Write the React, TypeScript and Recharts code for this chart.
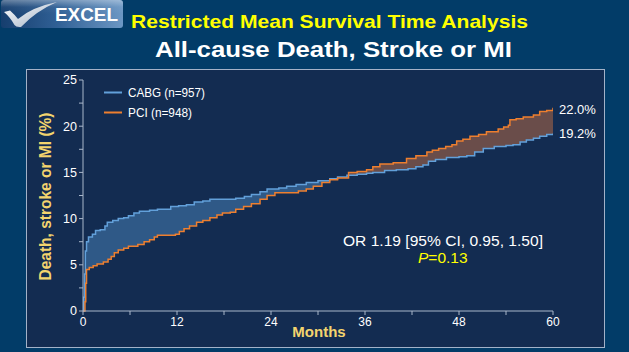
import React from 'react';
import { ComposedChart, Area, Line, XAxis, YAxis } from 'recharts';

// Kaplan-Meier style step points: [month, %]
const cabgMonths = [0, 0.1, 0.2, 0.3, 0.45, 0.7, 1.2, 1.6, 2.2, 2.8, 3.1, 3.8, 4.5, 5.2, 5.8, 6.5, 7.2, 8.5, 9.5, 11.2, 12.2, 13.2, 14.2, 15.3, 16.2, 17.5, 19.5, 20.6, 21.5, 22.6, 23.5, 25.0, 26.0, 27.2, 28.5, 30.0, 31.5, 32.5, 33.7, 35.0, 36.2, 37.0, 38.5, 40.0, 41.5, 42.5, 43.4, 44.1, 45.0, 46.4, 48.0, 49.0, 50.0, 51.1, 52.5, 54.0, 54.9, 55.8, 56.6, 57.5, 58.3, 59.2, 60];
const cabgValues = [0, 1.5, 4, 6.5, 7.5, 8.0, 8.3, 8.7, 8.8, 9.2, 9.6, 9.8, 10.0, 10.1, 10.3, 10.6, 10.8, 10.9, 11.0, 11.3, 11.4, 11.5, 11.8, 11.9, 12.1, 12.1, 12.2, 12.4, 12.6, 12.9, 13.2, 13.3, 13.5, 13.7, 13.9, 14.1, 14.3, 14.5, 14.7, 14.8, 14.9, 15.0, 15.2, 15.3, 15.4, 15.6, 15.8, 16.2, 16.4, 16.6, 16.7, 16.8, 17.2, 17.6, 17.8, 17.9, 18.0, 18.3, 18.5, 18.7, 18.9, 19.1, 19.2];

const pciMonths = [0, 0.25, 0.35, 0.45, 0.8, 1.3, 1.8, 2.6, 3.2, 3.6, 4.0, 4.5, 5.2, 5.8, 7.0, 7.8, 8.5, 9.1, 9.5, 11.8, 12.3, 12.9, 13.6, 14.5, 15.3, 16.2, 17.1, 17.8, 18.8, 19.5, 20.5, 21.5, 22.6, 23.5, 24.5, 27.5, 28.5, 29.4, 30.5, 31.5, 32.5, 33.9, 35.0, 36.2, 37.0, 37.9, 39.6, 41.3, 42.5, 43.9, 44.6, 45.4, 46.3, 47.1, 47.7, 48.5, 49.4, 50.5, 51.5, 53.0, 53.7, 54.3, 54.5, 55.3, 56.2, 57.5, 58.3, 59.2, 60];
const pciValues = [0, 1, 3, 4.5, 4.7, 4.9, 5.1, 5.3, 5.6, 5.9, 6.3, 6.6, 6.8, 7.0, 7.2, 7.5, 7.7, 8.0, 8.2, 8.3, 8.6, 8.9, 9.2, 9.6, 9.8, 10.1, 10.4, 10.6, 10.7, 11.0, 11.3, 11.6, 12.1, 12.5, 12.8, 13.0, 13.2, 13.5, 13.9, 14.2, 14.4, 15.0, 15.1, 15.3, 15.6, 15.9, 16.05, 16.5, 16.8, 17.2, 17.4, 17.6, 17.8, 18.0, 18.4, 18.6, 18.9, 19.1, 19.4, 19.7, 19.9, 20.1, 20.7, 20.8, 21.0, 21.2, 21.6, 21.7, 22.0];

const xTicks = [0, 6, 12, 18, 24, 30, 36, 42, 48, 54, 60];
const yTicks = [0, 2.5, 5, 7.5, 10, 12.5, 15, 17.5, 20, 22.5, 25];

const FONT = 'Arial, "Liberation Sans", sans-serif';
const AXIS = '#A9B7CB';
const BLUE = '#62A0DA';
const ORANGE = '#EE7F2F';

// step lookup: value in effect at month m
function stepAt(months: number[], values: number[], m: number) {
  let v = values[0];
  for (let i = 0; i < months.length; i++) {
    if (months[i] <= m) v = values[i];
    else break;
  }
  return v;
}

const allMonths = Array.from(new Set([...cabgMonths, ...pciMonths])).sort((a, b) => a - b);
const data = allMonths.map((m) => {
  const c = stepAt(cabgMonths, cabgValues, m);
  const p = stepAt(pciMonths, pciValues, m);
  const lo = Math.min(c, p);
  return { month: m, cabg: c, pci: p, blueBand: [lo, c], orangeBand: [lo, p] };
});

function Logo() {
  return (
    <g>
      <defs>
        <linearGradient id="logoBg" x1="0" y1="0" x2="1" y2="0">
          <stop offset="0" stopColor="#163E6E" />
          <stop offset="0.45" stopColor="#2F5F94" />
          <stop offset="1" stopColor="#6C97C4" />
        </linearGradient>
        <linearGradient id="logoGloss" x1="0" y1="0" x2="0" y2="1">
          <stop offset="0" stopColor="#FFFFFF" stopOpacity="0.35" />
          <stop offset="0.5" stopColor="#FFFFFF" stopOpacity="0.05" />
          <stop offset="1" stopColor="#FFFFFF" stopOpacity="0" />
        </linearGradient>
        <linearGradient id="check" x1="0" y1="0" x2="1" y2="1">
          <stop offset="0" stopColor="#FFFFFF" />
          <stop offset="1" stopColor="#9FB0C4" />
        </linearGradient>
      </defs>
      <rect x={1} y={0} width={122} height={28} rx={3} fill="url(#logoBg)" />
      <rect x={1} y={0} width={122} height={14} rx={3} fill="url(#logoGloss)" />
      <path d="M4,12 L10,10.5 Q15,15 18,19 Q32,7 57,2 Q36,11 21,27 Q16,27.5 14.5,25 Q10,17 4,12 Z" fill="url(#check)" />
      <text x={55} y={21} fill="#FFFFFF" fontFamily={FONT} fontWeight="bold" fontSize={17.5} textLength={63} lengthAdjust="spacingAndGlyphs">EXCEL</text>
    </g>
  );
}

export default function App() {
  return (
    <div style={{ position: 'absolute', left: 0, top: 0, width: 629, height: 352, background: '#023C68', overflow: 'hidden' }}>
      <svg width={629} height={352} style={{ position: 'absolute', left: 0, top: 0 }}>
        <Logo />
        <text x={131} y={28} fill="#FFFF00" fontFamily={FONT} fontWeight="bold" fontSize={19} textLength={397} lengthAdjust="spacingAndGlyphs">Restricted Mean Survival Time Analysis</text>
        <text x={155} y={57} fill="#FFFFFF" fontFamily={FONT} fontWeight="bold" fontSize={21.5} textLength={357} lengthAdjust="spacingAndGlyphs">All-cause Death, Stroke or MI</text>
        <rect x={26.5} y={69.5} width={578} height={278} fill="#132C51" stroke="#A3B2C8" strokeWidth={1} />
      </svg>

      <ComposedChart
        width={629}
        height={352}
        data={data}
        margin={{ top: 80, right: 76, left: 53, bottom: 21 }}
        style={{ position: 'absolute', left: 0, top: 0 }}
      >
        <XAxis
          dataKey="month"
          type="number"
          domain={[0, 60]}
          ticks={xTicks}
          tickFormatter={(v: number) => (v % 12 === 0 ? String(v) : '')}
          tick={{ fill: '#FFFFFF', fontSize: 12, fontFamily: FONT }}
          axisLine={{ stroke: AXIS }}
          tickLine={{ stroke: AXIS }}
          tickSize={4}
          tickMargin={2}
          height={20}
          allowDataOverflow
        />
        <YAxis
          type="number"
          domain={[0, 25]}
          ticks={yTicks}
          tickFormatter={(v: number) => (v % 5 === 0 ? String(v) : '')}
          tick={{ fill: '#FFFFFF', fontSize: 12.5, fontFamily: FONT }}
          axisLine={{ stroke: AXIS }}
          tickLine={{ stroke: AXIS }}
          tickSize={4}
          tickMargin={2}
          width={30}
        />
        <Area dataKey="blueBand" type="stepAfter" stroke="none" fill="#2F5987" fillOpacity={1} isAnimationActive={false} />
        <Area dataKey="orangeBand" type="stepAfter" stroke="none" fill="#6A4D4A" fillOpacity={1} isAnimationActive={false} />
        <Line dataKey="cabg" type="stepAfter" stroke={BLUE} strokeWidth={1.5} dot={false} activeDot={false} isAnimationActive={false} />
        <Line dataKey="pci" type="stepAfter" stroke={ORANGE} strokeWidth={1.5} dot={false} activeDot={false} isAnimationActive={false} />
      </ComposedChart>

      <svg width={629} height={352} style={{ position: 'absolute', left: 0, top: 0, pointerEvents: 'none' }}>
        {/* legend */}
        <line x1={104} y1={92.5} x2={122} y2={92.5} stroke={BLUE} strokeWidth={2} />
        <text x={128} y={96.5} fill="#FFFFFF" fontFamily={FONT} fontSize={12} textLength={77} lengthAdjust="spacingAndGlyphs">CABG (n=957)</text>
        <line x1={104} y1={112.5} x2={122} y2={112.5} stroke={ORANGE} strokeWidth={2} />
        <text x={128} y={116.5} fill="#FFFFFF" fontFamily={FONT} fontSize={12} textLength={64} lengthAdjust="spacingAndGlyphs">PCI (n=948)</text>

        {/* end-of-curve values */}
        <text x={559} y={114} fill="#FFFFFF" fontFamily={FONT} fontSize={13}>22.0%</text>
        <text x={559} y={138} fill="#FFFFFF" fontFamily={FONT} fontSize={13}>19.2%</text>

        {/* statistics */}
        <text x={343} y={246} fill="#FFFFFF" fontFamily={FONT} fontSize={15.5} textLength={200} lengthAdjust="spacingAndGlyphs">OR 1.19 [95% CI, 0.95, 1.50]</text>
        <text x={418} y={263} fill="#FFFF00" fontFamily={FONT} fontSize={15.5}>
          <tspan fontStyle="italic">P</tspan>=0.13
        </text>

        {/* axis titles */}
        <text x={319} y={337} textAnchor="middle" fill="#F3D46E" fontFamily={FONT} fontWeight="bold" fontSize={15}>Months</text>
        <text transform="translate(51,196.5) rotate(-90)" textAnchor="middle" fill="#F3D46E" fontFamily={FONT} fontWeight="bold" fontSize={16.5} textLength={168} lengthAdjust="spacingAndGlyphs">Death, stroke or MI (%)</text>
      </svg>
    </div>
  );
}
